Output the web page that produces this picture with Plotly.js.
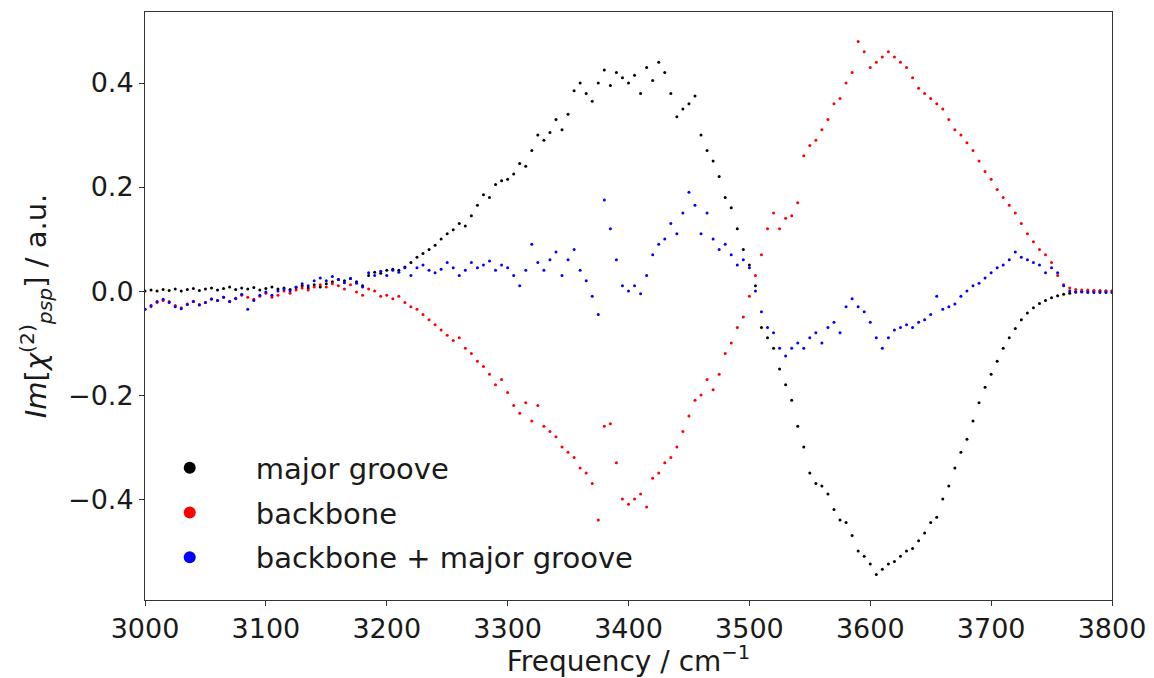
<!DOCTYPE html>
<html>
<head>
<meta charset="utf-8">
<script src="https://cdn.plot.ly/plotly-3.0.1.min.js"></script>
<style>html,body{margin:0;padding:0;background:#fff;}#chart{width:1154px;height:678px;}</style>
</head>
<body>
<div id="chart"></div>
<script>
const frequency = [3000,3005,3010,3015,3020,3025,3030,3035,3040,3045,3050,3055,3060,3065,3070,3075,3080,3085,3090,3095,
3100,3105,3110,3115,3120,3125,3130,3135,3140,3145,3150,3155,3160,3165,3170,3175,3180,3185,3190,3195,
3200,3205,3210,3215,3220,3225,3230,3235,3240,3245,3250,3255,3260,3265,3270,3275,3280,3285,3290,3295,
3300,3305,3310,3315,3320,3325,3330,3335,3340,3345,3350,3355,3360,3365,3370,3375,3380,3385,3390,3395,
3400,3405,3410,3415,3420,3425,3430,3435,3440,3445,3450,3455,3460,3465,3470,3475,3480,3485,3490,3495,
3500,3505,3510,3515,3520,3525,3530,3535,3540,3545,3550,3555,3560,3565,3570,3575,3580,3585,3590,3595,
3600,3605,3610,3615,3620,3625,3630,3635,3640,3645,3650,3655,3660,3665,3670,3675,3680,3685,3690,3695,
3700,3705,3710,3715,3720,3725,3730,3735,3740,3745,3750,3755,3760,3765,3770,3775,3780,3785,3790,3795,3800];

const majorGroove = [0.000,0.002,0.000,0.003,0.001,0.004,0.000,0.003,0.005,0.001,0.004,0.006,0.002,0.005,0.008,0.003,0.006,0.004,0.007,0.002,
0.005,0.008,0.004,0.006,0.003,0.007,0.010,0.006,0.012,0.008,0.014,0.018,0.022,0.020,0.024,0.018,0.010,0.030,0.036,0.034,
0.040,0.042,0.040,0.046,0.055,0.065,0.072,0.080,0.088,0.100,0.110,0.118,0.130,0.125,0.145,0.165,0.185,0.180,0.205,0.212,
0.215,0.225,0.245,0.240,0.270,0.300,0.290,0.305,0.330,0.310,0.340,0.385,0.400,0.380,0.365,0.400,0.425,0.395,0.420,0.410,
0.400,0.415,0.380,0.430,0.405,0.440,0.420,0.380,0.335,0.350,0.360,0.375,0.300,0.270,0.250,0.220,0.180,0.160,0.120,0.080,
0.050,0.010,-0.070,-0.090,-0.110,-0.150,-0.180,-0.210,-0.260,-0.300,-0.350,-0.370,-0.375,-0.390,-0.420,-0.440,-0.445,-0.470,-0.500,-0.510,
-0.525,-0.545,-0.535,-0.525,-0.520,-0.510,-0.500,-0.495,-0.480,-0.465,-0.445,-0.435,-0.400,-0.375,-0.340,-0.310,-0.285,-0.250,-0.215,-0.185,
-0.160,-0.135,-0.110,-0.090,-0.072,-0.055,-0.042,-0.032,-0.024,-0.018,-0.013,-0.009,-0.006,-0.004,-0.002,-0.001,0.000,0.000,0.000,0.000,0.000];

const backbone = [-0.035,-0.030,-0.022,-0.018,-0.020,-0.028,-0.032,-0.025,-0.020,-0.026,-0.022,-0.015,-0.018,-0.012,-0.020,-0.015,-0.008,-0.012,-0.016,-0.010,
-0.004,-0.012,-0.008,0.000,-0.004,0.002,0.006,0.002,0.008,0.012,0.008,0.014,0.010,0.004,0.012,-0.002,-0.008,0.004,0.000,-0.010,
-0.008,-0.015,-0.010,-0.022,-0.030,-0.035,-0.045,-0.055,-0.065,-0.075,-0.085,-0.095,-0.090,-0.110,-0.120,-0.135,-0.145,-0.160,-0.180,-0.170,
-0.195,-0.220,-0.235,-0.215,-0.250,-0.220,-0.260,-0.270,-0.280,-0.300,-0.310,-0.320,-0.340,-0.350,-0.370,-0.440,-0.260,-0.255,-0.330,-0.400,
-0.410,-0.400,-0.390,-0.415,-0.360,-0.350,-0.330,-0.320,-0.300,-0.270,-0.240,-0.210,-0.200,-0.170,-0.190,-0.160,-0.120,-0.100,-0.070,-0.050,
-0.010,0.030,0.070,0.120,0.150,0.120,0.140,0.145,0.170,0.260,0.280,0.290,0.310,0.330,0.360,0.370,0.400,0.420,0.480,0.460,
0.430,0.440,0.450,0.460,0.450,0.440,0.430,0.410,0.390,0.380,0.370,0.360,0.350,0.330,0.310,0.300,0.285,0.270,0.250,0.230,
0.215,0.195,0.180,0.165,0.150,0.130,0.110,0.095,0.080,0.070,0.055,0.030,0.012,0.006,0.003,0.002,0.002,0.001,0.001,0.000,0.000];

const combined = [-0.035,-0.028,-0.020,-0.016,-0.022,-0.030,-0.034,-0.026,-0.020,-0.027,-0.022,-0.016,-0.018,-0.012,-0.020,-0.014,-0.006,-0.035,-0.018,-0.008,
-0.002,-0.008,0.000,0.004,0.000,0.008,0.014,0.010,0.020,0.025,0.020,0.028,0.022,0.016,0.024,0.015,0.008,0.035,0.030,0.038,
0.030,0.040,0.036,0.045,0.030,0.045,0.050,0.040,0.035,0.042,0.055,0.045,0.030,0.040,0.055,0.045,0.050,0.058,0.040,0.050,
0.045,0.030,0.010,0.040,0.090,0.055,0.040,0.060,0.075,0.030,0.060,0.080,0.040,0.020,-0.010,-0.045,0.175,0.120,0.060,0.010,
0.000,0.010,-0.005,0.030,0.070,0.090,0.100,0.130,0.110,0.150,0.190,0.165,0.110,0.150,0.100,0.080,0.090,0.070,0.050,0.060,
0.045,0.000,-0.040,-0.070,-0.080,-0.110,-0.125,-0.110,-0.100,-0.110,-0.090,-0.080,-0.100,-0.070,-0.060,-0.080,-0.030,-0.015,-0.030,-0.040,
-0.060,-0.090,-0.110,-0.090,-0.075,-0.070,-0.065,-0.070,-0.060,-0.055,-0.045,-0.010,-0.035,-0.030,-0.025,-0.010,0.000,0.010,0.015,0.025,
0.035,0.045,0.050,0.060,0.075,0.065,0.060,0.055,0.050,0.035,0.045,0.035,0.010,0.000,-0.002,-0.002,-0.003,-0.003,-0.003,-0.003,-0.003];

const seriesNames = ['major groove', 'backbone', 'backbone + major groove'];
const seriesColors = ['#000000', '#ff0000', '#0000ff'];
const seriesValues = [majorGroove, backbone, combined];
const xTicks = [3000,3100,3200,3300,3400,3500,3600,3700,3800];
const yTicks = [-0.4,-0.2,0.0,0.2,0.4];

const FONT = 'DejaVu Sans, sans-serif';
const TXT = '#1a1a1a';
const traces = seriesValues.map((vals, i) => ({
  x: frequency, y: vals, type: 'scatter', mode: 'markers',
  name: seriesNames[i], legendgroup: 'g' + i,
  marker: {color: seriesColors[i], size: 3}
}));

const layout = {
  width: 1154, height: 678,
  margin: {l: 145, r: 42, t: 12, b: 78},
  paper_bgcolor: '#fff', plot_bgcolor: '#fff',
  font: {family: FONT, size: 28, color: TXT},
  showlegend: true,
  legend: {x: -0.022, y: 0.268, xanchor: 'left', yanchor: 'top', bgcolor: 'rgba(0,0,0,0)',
           font: {family: FONT, size: 29, color: TXT}, itemsizing: 'constant', itemwidth: 122,
           traceorder: 'grouped', tracegroupgap: 4},
  xaxis: {range: [3000, 3800], tickvals: xTicks, ticktext: xTicks.map(String),
          showgrid: false, zeroline: false, showline: true, mirror: true, linecolor: '#333', linewidth: 1,
          ticks: 'outside', ticklen: 5, tickcolor: '#333',
          tickfont: {family: FONT, size: 27, color: TXT},
          title: {text: 'Frequency / cm<sup>\u22121</sup>', font: {family: FONT, size: 28, color: TXT}, standoff: 13}},
  yaxis: {range: [-0.594, 0.5365], tickvals: yTicks, ticktext: yTicks.map(v => (v < 0 ? '\u2212' : '') + Math.abs(v).toFixed(1)),
          showgrid: false, zeroline: false, showline: true, mirror: true, linecolor: '#333', linewidth: 1,
          ticks: 'outside', ticklen: 5, tickcolor: '#333',
          tickfont: {family: FONT, size: 27, color: TXT},
          title: {text: '<i>Im</i>[<i>\u03c7</i><sup>(2)</sup><sub><i>psp</i></sub>] / a.u.', font: {family: FONT, size: 29, color: TXT}, standoff: 12}}
};

Plotly.newPlot('chart', traces, layout, {displayModeBar: false, staticPlot: true});
</script>
</body>
</html>
